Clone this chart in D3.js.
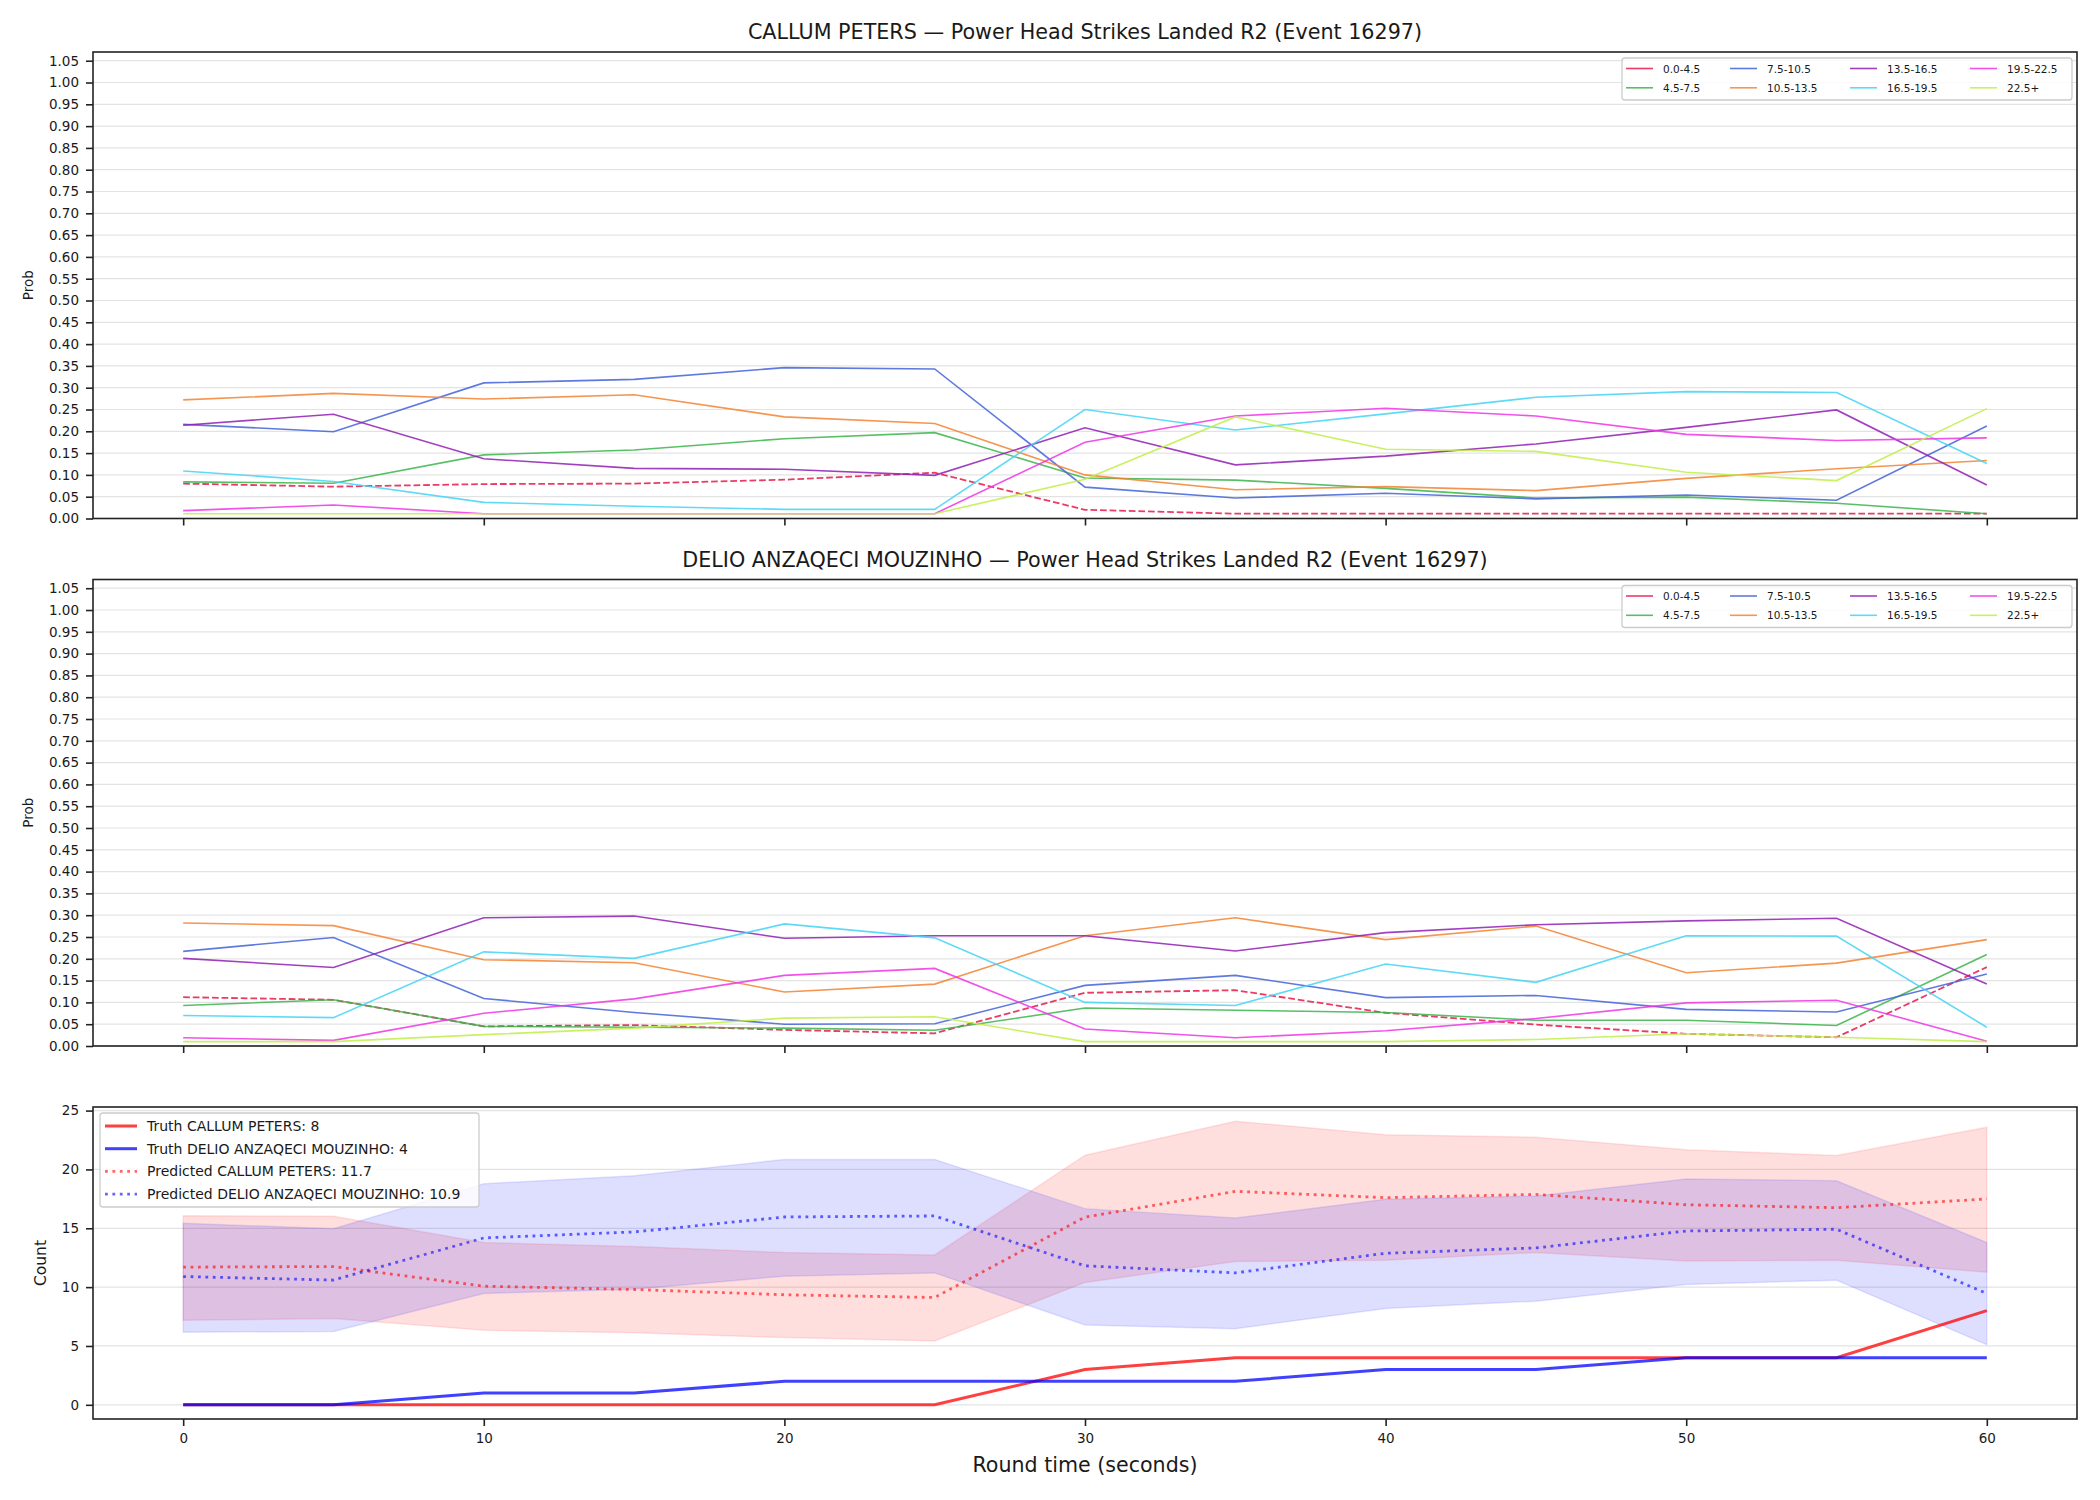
<!DOCTYPE html>
<html>
<head>
<meta charset="utf-8">
<script src="https://cdn.jsdelivr.net/npm/d3@7"></script>
<style>
  body { margin: 0; background: #fff; }
  svg text { font-family: "DejaVu Sans", sans-serif; fill: #1a1a1a; }
</style>
</head>
<body>
<div id="chart"></div>
<script>
// round time (seconds)
var times = [0, 5, 10, 15, 20, 25, 30, 35, 40, 45, 50, 55, 60];
var bins = ["0.0-4.5", "4.5-7.5", "7.5-10.5", "10.5-13.5", "13.5-16.5", "16.5-19.5", "19.5-22.5", "22.5+"];
var binColors = ["#e6194b", "#3cb44b", "#4363d8", "#f58231", "#911eb4", "#42d4f4", "#f032e6", "#bfef45"];

var fighterA = "CALLUM PETERS";
var fighterB = "DELIO ANZAQECI MOUZINHO";

// probability per bin (rows follow bins)
var callumProbs = [
  [0.080, 0.073, 0.079, 0.080, 0.089, 0.105, 0.020, 0.011, 0.011, 0.011, 0.011, 0.011, 0.011],
  [0.084, 0.081, 0.146, 0.157, 0.183, 0.197, 0.093, 0.088, 0.069, 0.047, 0.049, 0.035, 0.011],
  [0.216, 0.199, 0.311, 0.319, 0.346, 0.343, 0.072, 0.047, 0.058, 0.045, 0.054, 0.042, 0.212],
  [0.272, 0.287, 0.274, 0.284, 0.233, 0.218, 0.100, 0.066, 0.073, 0.064, 0.092, 0.114, 0.133],
  [0.214, 0.239, 0.137, 0.115, 0.113, 0.099, 0.208, 0.123, 0.143, 0.171, 0.209, 0.249, 0.077],
  [0.109, 0.085, 0.037, 0.028, 0.021, 0.021, 0.250, 0.203, 0.240, 0.278, 0.291, 0.289, 0.126],
  [0.018, 0.031, 0.011, 0.011, 0.011, 0.011, 0.175, 0.235, 0.253, 0.235, 0.193, 0.179, 0.185],
  [0.011, 0.011, 0.011, 0.011, 0.011, 0.011, 0.090, 0.233, 0.159, 0.154, 0.106, 0.087, 0.252]
];
var delioProbs = [
  [0.112, 0.106, 0.045, 0.048, 0.037, 0.029, 0.122, 0.128, 0.076, 0.049, 0.028, 0.020, 0.181],
  [0.093, 0.106, 0.045, 0.043, 0.041, 0.036, 0.087, 0.082, 0.077, 0.059, 0.059, 0.047, 0.210],
  [0.217, 0.249, 0.109, 0.077, 0.050, 0.051, 0.139, 0.162, 0.111, 0.116, 0.084, 0.078, 0.165],
  [0.282, 0.276, 0.198, 0.191, 0.124, 0.142, 0.253, 0.294, 0.244, 0.275, 0.168, 0.190, 0.244],
  [0.201, 0.180, 0.294, 0.298, 0.247, 0.253, 0.253, 0.218, 0.260, 0.278, 0.287, 0.293, 0.142],
  [0.070, 0.065, 0.216, 0.201, 0.280, 0.248, 0.100, 0.093, 0.188, 0.146, 0.253, 0.252, 0.043],
  [0.019, 0.013, 0.075, 0.108, 0.162, 0.178, 0.039, 0.019, 0.035, 0.063, 0.099, 0.105, 0.011],
  [0.010, 0.010, 0.026, 0.041, 0.064, 0.067, 0.010, 0.010, 0.010, 0.015, 0.028, 0.020, 0.010]
];
var probTicks = d3.range(0, 21 + 1).map(function(i) { return i * 0.05; });

// counts
var truthCallum = [0, 0, 0, 0, 0, 0, 3, 4, 4, 4, 4, 4, 8];
var truthDelio  = [0, 0, 1, 1, 2, 2, 2, 2, 3, 3, 4, 4, 4];
var predCallum  = [11.7, 11.75, 10.08, 9.8, 9.35, 9.12, 15.95, 18.14, 17.6, 17.88, 17.0, 16.75, 17.49];
var predDelio   = [10.9, 10.6, 14.18, 14.69, 15.96, 16.05, 11.81, 11.21, 12.88, 13.33, 14.77, 14.92, 9.46];
var callumHi    = [16.07, 16.02, 13.79, 13.45, 12.94, 12.74, 21.21, 24.1, 22.94, 22.74, 21.67, 21.19, 23.59];
var callumLo    = [7.18, 7.34, 6.33, 6.13, 5.71, 5.42, 10.4, 12.18, 12.29, 12.94, 12.23, 12.29, 11.27];
var delioHi     = [15.42, 14.97, 18.79, 19.46, 20.85, 20.85, 16.67, 15.88, 17.46, 17.74, 19.18, 19.04, 13.79];
var delioLo     = [6.16, 6.24, 9.46, 9.83, 10.93, 11.21, 6.78, 6.47, 8.19, 8.81, 10.23, 10.59, 5.11];
var countTicks = [0, 5, 10, 15, 20, 25];
var xTicks = [0, 10, 20, 30, 40, 50, 60];

var W = 2100, H = 1500;
var left = 93, right = 2077;
var panels = [
  {top: 52, bottom: 518.5},
  {top: 579.5, bottom: 1046},
  {top: 1107, bottom: 1419}
];

var svg = d3.select("#chart").append("svg")
  .attr("width", W).attr("height", H);
svg.append("rect").attr("width", W).attr("height", H).attr("fill", "#fff");

var x = d3.scaleLinear().domain([-3, 63]).range([left, right]);

function styleAxis(g, size) {
  g.select(".domain").remove();
  g.selectAll(".tick line").attr("stroke", "#222").attr("stroke-width", 1.6);
  g.selectAll(".tick text").style("font-size", size + "px").attr("fill", "#1a1a1a");
}

function gridAndAxes(p, y, yTicks, fmt, showX) {
  svg.append("g").selectAll("line")
    .data(yTicks).enter().append("line")
    .attr("x1", left).attr("x2", right)
    .attr("y1", function(d) { return y(d); })
    .attr("y2", function(d) { return y(d); })
    .attr("stroke", "#e3e3e3").attr("stroke-width", 1.2);

  var ya = svg.append("g")
    .attr("transform", "translate(" + left + ",0)")
    .call(d3.axisLeft(y).tickValues(yTicks).tickFormat(fmt).tickSize(7).tickPadding(7));
  styleAxis(ya, 13.5);

  var xa = svg.append("g")
    .attr("transform", "translate(0," + p.bottom + ")")
    .call(d3.axisBottom(x).tickValues(xTicks).tickSize(7).tickPadding(7)
      .tickFormat(showX ? d3.format("d") : ""));
  styleAxis(xa, 13.5);
}

function frame(p) {
  svg.append("rect")
    .attr("x", left).attr("y", p.top)
    .attr("width", right - left).attr("height", p.bottom - p.top)
    .attr("fill", "none").attr("stroke", "#222").attr("stroke-width", 1.6);
}

function probPanel(p, name, probs) {
  var y = d3.scaleLinear().domain([0, 1.07]).range([p.bottom, p.top]);
  gridAndAxes(p, y, probTicks, d3.format(".2f"), false);

  var line = d3.line()
    .x(function(d, i) { return x(times[i]); })
    .y(function(d) { return y(d); });

  svg.append("g").selectAll("path")
    .data(probs).enter().append("path")
    .attr("d", line)
    .attr("fill", "none")
    .attr("stroke", function(d, i) { return binColors[i]; })
    .attr("stroke-opacity", 0.85)
    .attr("stroke-width", function(d, i) { return i == 0 ? 1.8 : 1.6; })
    .attr("stroke-dasharray", function(d, i) { return i == 0 ? "6.7,2.9" : null; });

  frame(p);

  svg.append("text")
    .attr("x", (left + right) / 2).attr("y", p.top - 20)
    .attr("text-anchor", "middle").attr("dominant-baseline", "central")
    .style("font-size", "20.7px")
    .text(name + " \u2014 Power Head Strikes Landed R2 (Event 16297)");

  svg.append("text")
    .attr("transform", "translate(28," + ((p.top + p.bottom) / 2) + ") rotate(-90)")
    .attr("text-anchor", "middle").attr("dominant-baseline", "central")
    .style("font-size", "13.5px")
    .text("Prob");

  // legend, 4 columns x 2 rows
  var lx = right - 455, ly = p.top + 6;
  var lg = svg.append("g");
  lg.append("rect")
    .attr("x", lx).attr("y", ly).attr("width", 450).attr("height", 42)
    .attr("rx", 3).attr("fill", "#fff").attr("fill-opacity", 0.8)
    .attr("stroke", "#cccccc").attr("stroke-width", 1.3);
  var colX = [4, 108, 228, 348];
  bins.forEach(function(b, i) {
    var cx = lx + colX[Math.floor(i / 2)];
    var cy = ly + (i % 2 == 0 ? 10.5 : 29.8);
    lg.append("line")
      .attr("x1", cx).attr("x2", cx + 27).attr("y1", cy).attr("y2", cy)
      .attr("stroke", binColors[i]).attr("stroke-opacity", 0.85).attr("stroke-width", 1.6);
    lg.append("text")
      .attr("x", cx + 37).attr("y", cy)
      .attr("dominant-baseline", "central")
      .style("font-size", "10.5px")
      .text(b);
  });
}

probPanel(panels[0], fighterA, callumProbs);
probPanel(panels[1], fighterB, delioProbs);

// count panel
var p3 = panels[2];
var allCounts = [].concat(truthCallum, truthDelio, predCallum, predDelio, callumHi, callumLo, delioHi, delioLo);
var cMin = d3.min(allCounts), cMax = d3.max(allCounts), pad = (cMax - cMin) * 0.05;
var yc = d3.scaleLinear().domain([cMin - pad, cMax + pad]).range([p3.bottom, p3.top]);
gridAndAxes(p3, yc, countTicks, d3.format("d"), true);

var area = function(lo, hi) {
  return d3.area()
    .x(function(d, i) { return x(times[i]); })
    .y0(function(d, i) { return yc(lo[i]); })
    .y1(function(d, i) { return yc(hi[i]); })(times);
};
var cline = d3.line()
  .x(function(d, i) { return x(times[i]); })
  .y(function(d) { return yc(d); });

svg.append("path").attr("d", area(callumLo, callumHi))
  .attr("fill", "#ff0000").attr("fill-opacity", 0.13)
  .attr("stroke", "#ff0000").attr("stroke-opacity", 0.1).attr("stroke-width", 1.5);
svg.append("path").attr("d", area(delioLo, delioHi))
  .attr("fill", "#0000ff").attr("fill-opacity", 0.13)
  .attr("stroke", "#0000ff").attr("stroke-opacity", 0.1).attr("stroke-width", 1.5);

var series = [
  {vals: truthCallum, color: "#ff0000", op: 0.75, dash: null, label: "Truth " + fighterA + ": " + truthCallum[truthCallum.length - 1]},
  {vals: truthDelio, color: "#0000ff", op: 0.75, dash: null, label: "Truth " + fighterB + ": " + truthDelio[truthDelio.length - 1]},
  {vals: predCallum, color: "#ff0000", op: 0.6, dash: "2.8,4.6", label: "Predicted " + fighterA + ": " + d3.format(".1f")(predCallum[0])},
  {vals: predDelio, color: "#0000ff", op: 0.6, dash: "2.8,4.6", label: "Predicted " + fighterB + ": " + d3.format(".1f")(predDelio[0])}
];

series.forEach(function(s) {
  svg.append("path").attr("d", cline(s.vals))
    .attr("fill", "none")
    .attr("stroke", s.color).attr("stroke-opacity", s.op)
    .attr("stroke-width", s.dash ? 2.8 : 3)
    .attr("stroke-dasharray", s.dash);
});

frame(p3);

// legend for counts
var lg3 = svg.append("g");
lg3.append("rect")
  .attr("x", 100).attr("y", 1113).attr("width", 379).attr("height", 94)
  .attr("rx", 3).attr("fill", "#fff").attr("fill-opacity", 0.8)
  .attr("stroke", "#cccccc").attr("stroke-width", 1.3);
series.forEach(function(s, i) {
  var cy = 1126 + i * 22.7;
  lg3.append("line")
    .attr("x1", 105).attr("x2", 137).attr("y1", cy).attr("y2", cy)
    .attr("stroke", s.color).attr("stroke-opacity", s.op)
    .attr("stroke-width", s.dash ? 2.8 : 3)
    .attr("stroke-dasharray", s.dash);
  lg3.append("text")
    .attr("x", 147).attr("y", cy)
    .attr("dominant-baseline", "central")
    .style("font-size", "14px")
    .text(s.label);
});

svg.append("text")
  .attr("transform", "translate(41," + ((p3.top + p3.bottom) / 2) + ") rotate(-90)")
  .attr("text-anchor", "middle").attr("dominant-baseline", "central")
  .style("font-size", "15.5px")
  .text("Count");

svg.append("text")
  .attr("x", (left + right) / 2).attr("y", 1465)
  .attr("text-anchor", "middle").attr("dominant-baseline", "central")
  .style("font-size", "20.6px")
  .text("Round time (seconds)");
</script>
</body>
</html>
